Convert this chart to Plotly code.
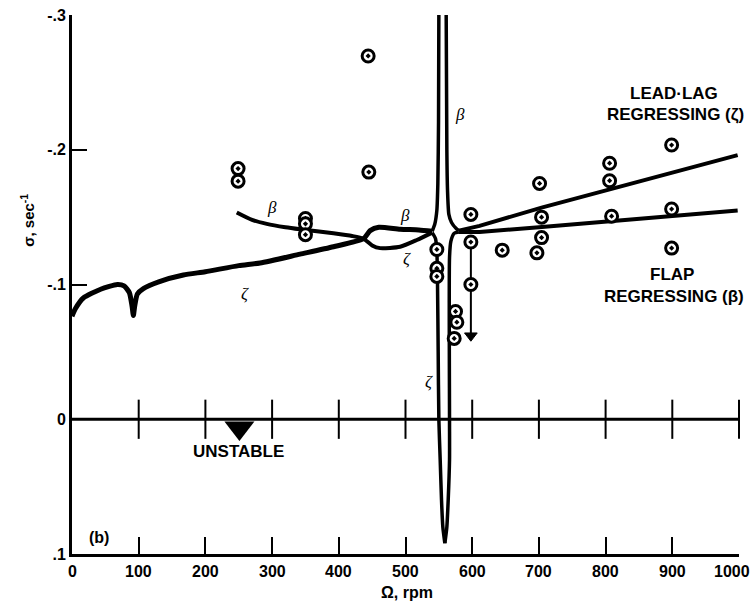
import plotly.graph_objects as go

# ---------------- data ----------------
# lead-lag (zeta) curve from 0 rpm up to the junction near resonance
zeta_rpm = [0, 5, 17, 43, 68, 78, 86, 90, 92, 94, 98, 107, 130, 167, 200, 250, 282, 342, 392, 437, 447, 460, 492, 520, 540]
zeta_sig = [-0.0765, -0.082, -0.090, -0.0965, -0.100, -0.099, -0.094, -0.084, -0.077, -0.084, -0.093, -0.097, -0.102, -0.107, -0.1095, -0.114, -0.116, -0.1225, -0.128, -0.134, -0.140, -0.1425, -0.141, -0.1405, -0.1395]

# flap (beta) curve on the left side
beta_rpm = [247, 270, 292, 320, 342, 392, 420, 437, 450, 462, 492, 517, 540]
beta_sig = [-0.1535, -0.148, -0.145, -0.1425, -0.141, -0.138, -0.136, -0.134, -0.129, -0.127, -0.128, -0.133, -0.1385]

# resonance spike branches
spike_ul_rpm = [540, 544, 547, 548.5, 549.5, 550]
spike_ul_sig = [-0.1395, -0.145, -0.155, -0.175, -0.22, -0.30]
spike_ll_rpm = [540, 545, 547, 548, 549, 550, 552, 554, 556, 559]
spike_ll_sig = [-0.1385, -0.134, -0.125, -0.10, -0.05, 0.0, 0.03, 0.06, 0.08, 0.092]
spike_lr_rpm = [559, 562, 564, 566, 566, 566, 568, 573, 580]
spike_lr_sig = [0.092, 0.08, 0.06, 0.03, 0.0, -0.12, -0.132, -0.138, -0.139]
spike_ur_rpm = [561, 562, 563, 565, 569, 576, 580]
spike_ur_sig = [-0.30, -0.20, -0.17, -0.152, -0.146, -0.1415, -0.140]

# regressing modes on the right
leadlag_rpm = [580, 611, 704, 851, 998]
leadlag_sig = [-0.140, -0.1435, -0.157, -0.1767, -0.196]
flap_rpm = [580, 611, 700, 809, 900, 998]
flap_sig = [-0.139, -0.139, -0.1425, -0.147, -0.151, -0.155]

# measured points
pts_rpm = [249, 249, 350, 350, 350, 444, 445, 547, 547, 547, 575, 577, 573,
           598, 598, 598, 645, 697, 704, 704, 701, 806, 806, 809, 899, 899, 899]
pts_sig = [-0.186, -0.1767, -0.149, -0.145, -0.137, -0.2696, -0.1834, -0.126, -0.112, -0.106,
           -0.080, -0.072, -0.060, -0.152, -0.1315, -0.100, -0.1255, -0.1235, -0.150, -0.1348,
           -0.175, -0.190, -0.177, -0.1507, -0.2035, -0.156, -0.127]

# line and arrow at 600 rpm
drop_rpm = [598, 598]
drop_sig = [-0.1315, -0.063]
arrow_rpm = [598]
arrow_sig = [-0.062]

x_ticks = [0, 100, 200, 300, 400, 500, 600, 700, 800, 900, 1000]
x_ticktext = ["0", "100", "200", "300", "400", "500", "600", "700", "800", "900", "1000"]
y_ticks = [-0.3, -0.2, -0.1, 0, 0.1]
y_ticktext = ["-.3", "-.2", "-.1", "0", ".1"]

FONT = "Liberation Sans"
fig = go.Figure()

def line(x, y, w):
    fig.add_trace(go.Scatter(x=x, y=y, mode="lines", line=dict(color="black", width=w, shape="spline", smoothing=0.6),
                             showlegend=False, hoverinfo="skip"))

line(zeta_rpm, zeta_sig, 5)
line(beta_rpm, beta_sig, 4)
line(spike_ul_rpm, spike_ul_sig, 3.5)
line(spike_ll_rpm, spike_ll_sig, 3.5)
line(spike_lr_rpm, spike_lr_sig, 3.5)
line(spike_ur_rpm, spike_ur_sig, 3.5)
fig.add_trace(go.Scatter(x=leadlag_rpm, y=leadlag_sig, mode="lines", line=dict(color="black", width=4),
                         showlegend=False))
fig.add_trace(go.Scatter(x=flap_rpm, y=flap_sig, mode="lines", line=dict(color="black", width=4),
                         showlegend=False))
# drop line ending in an arrow head
fig.add_trace(go.Scatter(x=drop_rpm, y=drop_sig, mode="lines", line=dict(color="black", width=2),
                         showlegend=False))
fig.add_trace(go.Scatter(x=arrow_rpm, y=arrow_sig, mode="markers",
                         marker=dict(symbol="triangle-down", size=11, color="black",
                                     line=dict(color="black", width=1)),
                         showlegend=False))

# zero line with cross ticks
fig.add_trace(go.Scatter(x=[0, 1000], y=[0, 0], mode="lines", line=dict(color="black", width=3),
                         showlegend=False, cliponaxis=False))
fig.add_trace(go.Scatter(x=x_ticks[1:], y=[0] * (len(x_ticks) - 1), mode="markers",
                         marker=dict(symbol="line-ns", size=28, line=dict(color="black", width=2)),
                         showlegend=False, cliponaxis=False))

# data points
fig.add_trace(go.Scatter(x=pts_rpm, y=pts_sig, mode="markers",
                         marker=dict(symbol="circle-dot", size=12, color="white",
                                     line=dict(color="black", width=3)),
                         showlegend=False))

# unstable arrow
fig.add_trace(go.Scatter(x=[251], y=[0.0065], mode="markers",
                         marker=dict(symbol="triangle-down", size=26, color="black"),
                         showlegend=False))

ann = []

def txt(x, y, s, size=17, bold=True, family=FONT, **kw):
    ann.append(dict(x=x, y=y, xref="x", yref="y", text=s, showarrow=False,
                    font=dict(family=family, size=size, color="black", weight="bold" if bold else "normal"), **kw))

txt(903, -0.242, "LEAD·LAG")
txt(905, -0.2264, "REGRESSING (ζ)")
txt(900, -0.1076, "FLAP")
txt(903, -0.0913, "REGRESSING (β)")
txt(249, 0.0238, "UNSTABLE")
txt(41, 0.0876, "(b)", size=16)

for (gx, gy, g) in [(300, -0.157, "β"), (499, -0.151, "β"), (582, -0.226, "β"),
                    (502, -0.119, "ζ"), (260, -0.093, "ζ"), (535, -0.028, "ζ")]:
    txt(gx, gy, "<i>" + g + "</i>", size=17, bold=False, family="Liberation Serif")

# x tick labels (last one kept inside the page)
for i, (tv, tt) in enumerate(zip(x_ticks, x_ticktext)):
    last = i == len(x_ticks) - 1
    ann.append(dict(x=tv, y=-0.033, xref="x", yref="paper", text=tt, showarrow=False,
                    xanchor="right" if last else "center", yanchor="middle",
                    xshift=13 if last else 0,
                    font=dict(family=FONT, size=16, color="black", weight="bold")))

ann.append(dict(x=502, y=-0.072, xref="x", yref="paper", text="Ω, rpm", showarrow=False,
                xanchor="center", yanchor="middle",
                font=dict(family=FONT, size=16, color="black", weight="bold")))
ann.append(dict(x=-0.066, y=-0.148, xref="paper", yref="y", text="σ, sec<sup>-1</sup>", showarrow=False,
                xanchor="center", yanchor="middle",
                textangle=-90, font=dict(family=FONT, size=15, color="black", weight="bold")))

fig.update_layout(
    width=754, height=608,
    margin=dict(l=72, r=15, t=15, b=54, autoexpand=False),
    paper_bgcolor="white", plot_bgcolor="white",
    annotations=ann,
    xaxis=dict(range=[0, 1000], tickvals=x_ticks, showticklabels=False, showline=True, linecolor="black",
               linewidth=3, ticks="inside", ticklen=17, tickwidth=2, tickcolor="black", showgrid=False,
               zeroline=False, automargin=False),
    yaxis=dict(range=[0.1, -0.3], tickvals=y_ticks, ticktext=y_ticktext, showline=True, linecolor="black",
               linewidth=3, ticks="inside", ticklen=15, tickwidth=2, tickcolor="black", showgrid=False,
               automargin=False,
               zeroline=False, tickfont=dict(family=FONT, size=16, color="black", weight="bold")),
)

fig.write_html("out.html")
